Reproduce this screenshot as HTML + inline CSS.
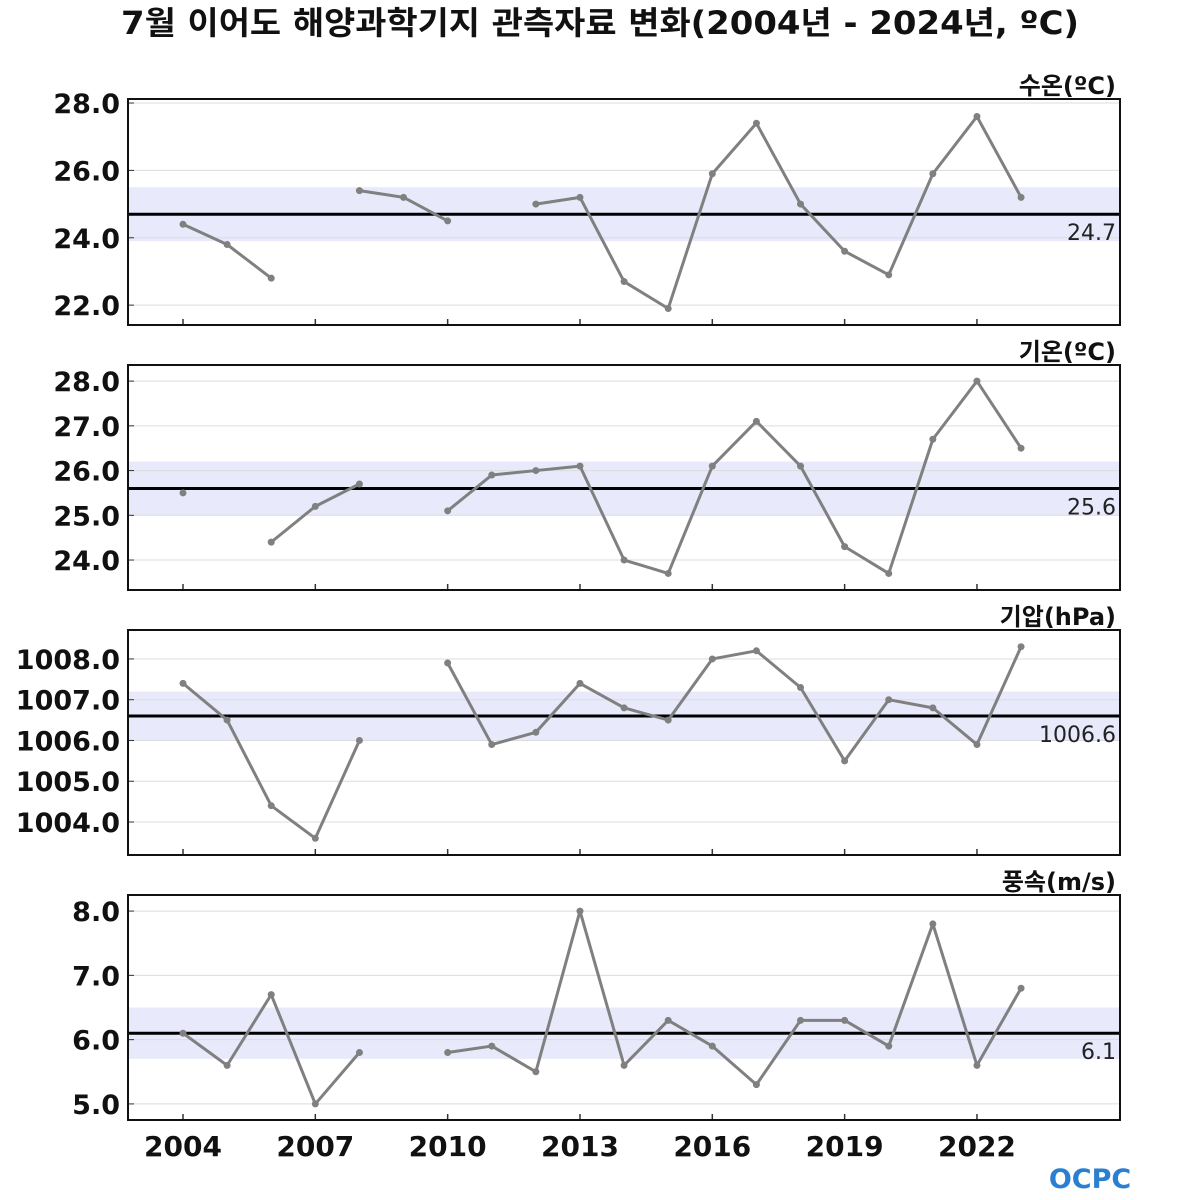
<!DOCTYPE html>
<html><head><meta charset="utf-8">
<style>
html,body{margin:0;padding:0;background:#fff;}
svg{display:block;font-family:"DejaVu Sans","Noto Sans CJK KR","NanumGothic",sans-serif;}
</style></head>
<body>
<svg id="chart" width="1200" height="1200" viewBox="0 0 1200 1200" xmlns="http://www.w3.org/2000/svg">
<text x="600" y="34" text-anchor="middle" font-size="32" font-weight="bold" fill="#111" textLength="958" lengthAdjust="spacingAndGlyphs">7월 이어도 해양과학기지 관측자료 변화(2004년 - 2024년, ºC)</text>
<g>
<text x="1090" y="1188" text-anchor="middle" font-size="27" font-weight="bold" fill="#2a7fd0">OCPC</text>
</g>
</svg>
<script>
const years = [2004,2005,2006,2007,2008,2009,2010,2011,2012,2013,2014,2015,2016,2017,2018,2019,2020,2021,2022,2023];
const waterTemp = [24.4,23.8,22.8,null,25.4,25.2,24.5,null,25.0,25.2,22.7,21.9,25.9,27.4,25.0,23.6,22.9,25.9,27.6,25.2];
const airTemp = [25.5,null,24.4,25.2,25.7,null,25.1,25.9,26.0,26.1,24.0,23.7,26.1,27.1,26.1,24.3,23.7,26.7,28.0,26.5];
const pressure = [1007.4,1006.5,1004.4,1003.6,1006.0,null,1007.9,1005.9,1006.2,1007.4,1006.8,1006.5,1008.0,1008.2,1007.3,1005.5,1007.0,1006.8,1005.9,1008.3];
const wind = [6.1,5.6,6.7,5.0,5.8,null,5.8,5.9,5.5,8.0,5.6,6.3,5.9,5.3,6.3,6.3,5.9,7.8,5.6,6.8];
const means = [24.7,25.6,1006.6,6.1];
const bandLow = [23.9,25.0,1006.0,5.7];
const bandHigh = [25.5,26.2,1007.2,6.5];
const panelTitles = ["수온(ºC)","기온(ºC)","기압(hPa)","풍속(m/s)"];
const yTicks1 = [22,24,26,28];
const yTicks2 = [24,25,26,27,28];
const yTicks3 = [1004,1005,1006,1007,1008];
const yTicks4 = [5,6,7,8];
const xTicks = [2004,2007,2010,2013,2016,2019,2022];

const NS="http://www.w3.org/2000/svg";
const svg=document.getElementById('chart');
function mk(tag,attrs,parent){const e=document.createElementNS(NS,tag);for(const k in attrs)e.setAttribute(k,attrs[k]);(parent||svg).appendChild(e);return e;}
const X0=128,X1=1120,xMin=2002.753,xMax=2025.243;
function xs(v){return X0+(v-xMin)/(xMax-xMin)*(X1-X0);}
const panels=[
 {top:99,bot:325,yMin:21.41,yMax:28.12,data:waterTemp,ticks:yTicks1,name:'water-temp'},
 {top:365,bot:590,yMin:23.33,yMax:28.36,data:airTemp,ticks:yTicks2,name:'air-temp'},
 {top:630,bot:855,yMin:1003.19,yMax:1008.71,data:pressure,ticks:yTicks3,name:'pressure'},
 {top:895,bot:1120,yMin:4.75,yMax:8.25,data:wind,ticks:yTicks4,name:'wind-speed'}
];
panels.forEach((p,i)=>{
 const ys=v=>p.bot-(v-p.yMin)/(p.yMax-p.yMin)*(p.bot-p.top);
 const g=mk('g',{});
 
 
 const band=mk('rect',{x:X0,y:ys(bandHigh[i]),width:X1-X0,height:ys(bandLow[i])-ys(bandHigh[i]),fill:'#e8eafc'},g);
 
 
 p.ticks.forEach(t=>{
  const gl=mk('line',{x1:X0,x2:X1,y1:ys(t),y2:ys(t),stroke:'#dcdcdc','stroke-width':1},g);
  
  
  mk('line',{x1:X0,x2:X0+6,y1:ys(t),y2:ys(t),stroke:'#333','stroke-width':1},g);
  const tl=mk('text',{x:120,y:ys(t)+10,'text-anchor':'end','font-size':27,'font-weight':'bold',fill:'#111'},g);
  tl.textContent=t.toFixed(1);
  
  
 });
 const ml=mk('line',{x1:X0,x2:X1,y1:ys(means[i]),y2:ys(means[i]),stroke:'#000','stroke-width':3},g);
 
 
 const mt=mk('text',{x:1116,y:ys(means[i])+26,'text-anchor':'end','font-size':22,fill:'#222'},g);
 mt.textContent=means[i].toFixed(1);
 
 
 let seg=[];
 const segs=[];
 p.data.forEach((v,j)=>{if(v==null){if(seg.length)segs.push(seg);seg=[];}else seg.push([xs(years[j]),ys(v)]);});
 if(seg.length)segs.push(seg);
 segs.forEach(s=>{
  if(s.length>1){
   const pl=mk('polyline',{points:s.map(q=>q.join(',')).join(' '),fill:'none',stroke:'#808080','stroke-width':3,'stroke-linejoin':'round'},g);
   
   
  }
 });
 p.data.forEach((v,j)=>{
  if(v==null)return;
  const c=mk('circle',{cx:xs(years[j]),cy:ys(v),r:3.5,fill:'#808080'},g);
  
  
 });
 xTicks.forEach(t=>{mk('line',{x1:xs(t),x2:xs(t),y1:p.bot-6,y2:p.bot,stroke:'#333','stroke-width':1.5},g);});
 const fr=mk('rect',{x:X0,y:p.top,width:X1-X0,height:p.bot-p.top,fill:'none',stroke:'#111','stroke-width':2},g);
 
 
 const pt=mk('text',{x:1116,y:p.top-5,'text-anchor':'end','font-size':24,'font-weight':'bold',fill:'#111'},g);
 pt.textContent=panelTitles[i];
 
 
});
xTicks.forEach(t=>{
 const xl=mk('text',{x:xs(t),y:1156,'text-anchor':'middle','font-size':28,'font-weight':'bold',fill:'#111'});
 xl.textContent=t;
 
 
});
</script>
</body></html>
